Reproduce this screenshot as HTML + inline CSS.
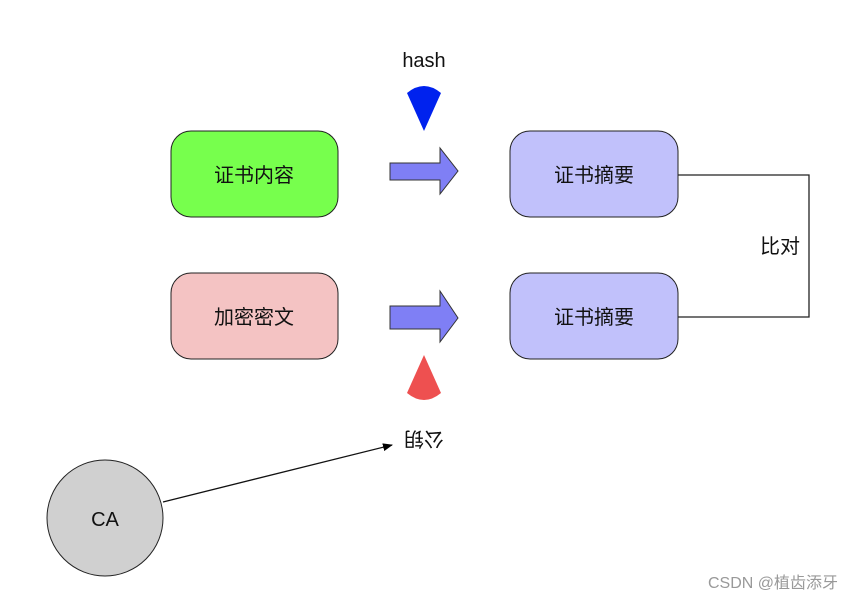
<html><body style="margin:0;background:#fff">
<svg width="844" height="602" xmlns="http://www.w3.org/2000/svg" style="font-family:'Liberation Sans','Noto Sans CJK SC',sans-serif">
<defs><marker id="a" markerWidth="10" markerHeight="8" refX="9" refY="4" orient="auto" markerUnits="userSpaceOnUse"><path d="M0,0 L10,4 L0,8 Z" fill="#000"/></marker></defs>
<circle cx="105" cy="518" r="58" fill="#d0d0d0" stroke="#222"/>
<rect x="171" y="131" width="167" height="86" rx="20" fill="#77ff4d" stroke="#222"/>
<rect x="171" y="273" width="167" height="86" rx="20" fill="#f4c3c3" stroke="#222"/>
<rect x="510" y="131" width="168" height="86" rx="20" fill="#c1c1fb" stroke="#222"/>
<rect x="510" y="273" width="168" height="86" rx="20" fill="#c1c1fb" stroke="#222"/>
<g font-size="20" text-anchor="middle" fill="#111">
<text x="254" y="182">证书内容</text><text x="254" y="324">加密密文</text>
<text x="594" y="182">证书摘要</text><text x="594" y="324">证书摘要</text>
<text x="780" y="253">比对</text>
<text x="424" y="67">hash</text>
<text x="105" y="526">CA</text>
<text x="424" y="432" transform="rotate(180 424 432)" font-size="20">公钥</text>
</g>
<path d="M678,175 H809 V317 H678" fill="none" stroke="#222" stroke-width="1.3"/>
<path d="M390,163 H440 V148 L458,171 L440,194 V180 H390 Z" fill="#7f7ff5" stroke="#333"/>
<path d="M390,306 H440 V291 L458,318 L440,342 V329 H390 Z" fill="#7f7ff5" stroke="#333"/>
<path d="M424,131 L407,93 Q424,79 441,93 Z" fill="#0022ee"/>
<path d="M424,355 L407,393 Q424,407 441,393 Z" fill="#ee5050"/>
<line x1="163" y1="502" x2="392" y2="445" stroke="#111" stroke-width="1.3" marker-end="url(#a)"/>
<text x="838" y="588" text-anchor="end" font-size="16" fill="#999">CSDN @植齿添牙</text>
</svg>
</body></html>
